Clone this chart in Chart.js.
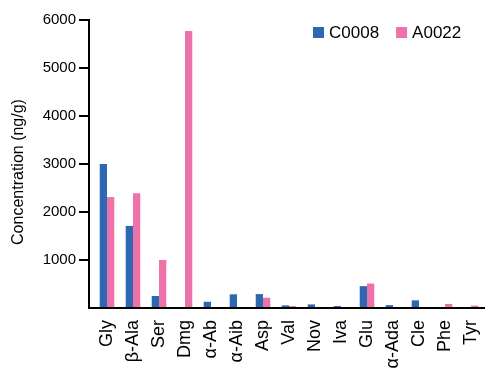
<!DOCTYPE html>
<html>
<head>
<meta charset="utf-8">
<script src="https://cdn.jsdelivr.net/npm/chart.js@4/dist/chart.umd.min.js"></script>
<style>
  html, body { margin: 0; padding: 0; background: #ffffff; }
  #wrap { width: 485px; height: 378px; position: relative; }
</style>
</head>
<body>
<div id="wrap"><canvas id="c" width="485" height="378"></canvas></div>
<script>
const categories = ['Gly', 'β-Ala', 'Ser', 'Dmg', 'α-Ab', 'α-Aib', 'Asp', 'Val', 'Nov', 'Iva', 'Glu', 'α-Ada', 'Cle', 'Phe', 'Tyr'];
const seriesNames = ['C0008', 'A0022'];
const c0008 = [3000, 1710, 250, 0, 130, 285, 290, 55, 75, 40, 455, 60, 160, 0, 0];
const a0022 = [2310, 2390, 1000, 5770, 0, 0, 215, 40, 0, 0, 510, 0, 0, 85, 50];
const yMax = 6000;
const yStep = 1000;
const yTitle = 'Concentration (ng/g)';

const BLUE = '#2e67b2';
const PINK = '#ee72aa';
const FONT = '"Liberation Sans", Arial, Helvetica, sans-serif';

const shiftPlugin = {
  id: 'shiftX',
  afterLayout(chart) {
    const s = chart.scales.x;
    s._startPixel += 5;
    s._length -= 6;
  }
};

const extrasPlugin = {
  id: 'extras',
  afterDraw(chart) {
    const ctx = chart.ctx;
    ctx.save();
    ctx.fillStyle = '#000';
    ctx.font = '16px ' + FONT;
    ctx.textAlign = 'center';
    ctx.textBaseline = 'middle';
    ctx.translate(19, 172);
    ctx.rotate(-Math.PI / 2);
    ctx.fillText(yTitle, 0, 0);
    ctx.restore();

    ctx.save();
    ctx.font = '17px ' + FONT;
    ctx.textBaseline = 'middle';
    ctx.textAlign = 'left';
    let x = 313;
    const cy = 33;
    chart.data.datasets.forEach((ds) => {
      ctx.fillStyle = ds.backgroundColor;
      ctx.fillRect(x, cy - 6, 11, 11);
      ctx.fillStyle = '#000';
      ctx.fillText(ds.label, x + 16, cy);
      x += 16 + ctx.measureText(ds.label).width + 17;
    });
    ctx.restore();
  }
};

new Chart(document.getElementById('c'), {
  type: 'bar',
  data: {
    labels: categories,
    datasets: [
      { label: seriesNames[0], data: c0008, backgroundColor: BLUE, borderWidth: 0 },
      { label: seriesNames[1], data: a0022, backgroundColor: PINK, borderWidth: 0 }
    ]
  },
  options: {
    responsive: false,
    animation: false,
    devicePixelRatio: 1,
    layout: { padding: { top: 20, right: 0, left: 0, bottom: 0 } },
    plugins: {
      legend: { display: false },
      tooltip: { enabled: false }
    },
    datasets: {
      bar: { barPercentage: 1.0, categoryPercentage: 0.56 }
    },
    scales: {
      x: {
        grid: { display: false, drawTicks: false },
        border: { display: true, color: '#000', width: 2 },
        ticks: {
          color: '#000',
          font: { size: 18, family: FONT },
          maxRotation: 90,
          minRotation: 90,
          autoSkip: false,
          padding: 12
        },
        afterFit(scale) {
          scale.height = 70;
          scale.paddingLeft = 0;
          scale.paddingRight = 0;
        }
      },
      y: {
        min: 0,
        max: yMax,
        grid: {
          display: true,
          drawOnChartArea: false,
          drawTicks: true,
          tickLength: 10,
          color: (c) => (c.tick && c.tick.value === 0) ? 'rgba(0,0,0,0)' : '#000',
          lineWidth: 2
        },
        border: { display: true, color: '#000', width: 2 },
        ticks: {
          stepSize: yStep,
          color: '#000',
          font: { size: 15, family: FONT },
          padding: 3,
          callback: (v) => v === 0 ? '' : String(v)
        },
        afterFit(scale) { scale.width = 89; }
      }
    }
  },
  plugins: [shiftPlugin, extrasPlugin]
});
</script>
</body>
</html>
